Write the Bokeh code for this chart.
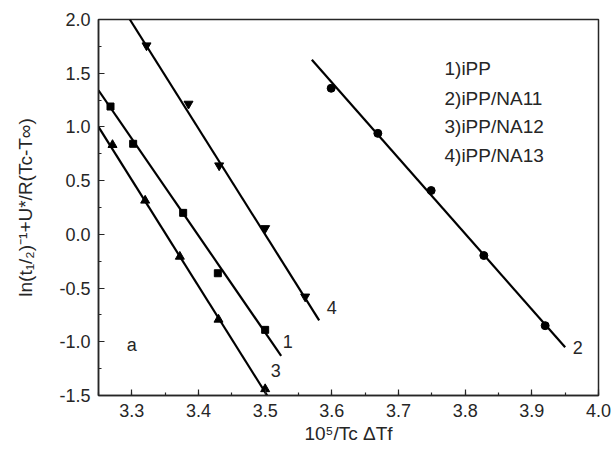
from bokeh.plotting import figure
from bokeh.models import Range1d, SingleIntervalTicker, PrintfTickFormatter
from bokeh.core.properties import value
from bokeh.embed import file_html
from bokeh.resources import INLINE

# data
s1_x = [3.268, 3.302, 3.377, 3.429, 3.500]
s1_y = [1.19, 0.843, 0.20, -0.362, -0.889]
s2_x = [3.599, 3.669, 3.749, 3.828, 3.920]
s2_y = [1.36, 0.94, 0.408, -0.197, -0.85]
s3_x = [3.271, 3.320, 3.372, 3.430, 3.500]
s3_y = [0.833, 0.315, -0.207, -0.793, -1.44]
s4_x = [3.322, 3.385, 3.431, 3.500, 3.560]
s4_y = [1.758, 1.215, 0.641, 0.057, -0.58]

fit1_x = [3.25, 3.524]
fit1_y = [1.34, -1.13]
fit2_x = [3.570, 3.950]
fit2_y = [1.625, -1.05]
fit3_x = [3.25, 3.504]
fit3_y = [1.00, -1.51]
fit4_x = [3.297, 3.581]
fit4_y = [2.0, -0.80]

legend_texts = ["1)iPP", "2)iPP/NA11", "3)iPP/NA12", "4)iPP/NA13"]
curve_labels = ["1", "2", "3", "4"]

FONT = "Liberation Sans"
INK = "#262626"

p = figure(width=613, height=459, output_backend="svg", toolbar_location=None,
           x_range=Range1d(3.25, 4.0), y_range=Range1d(-1.5, 2.0),
           min_border_left=98, min_border_right=15, min_border_top=19, min_border_bottom=64)
p.grid.visible = False
p.outline_line_color = INK
p.outline_line_width = 1.5
p.background_fill_color = "white"
p.border_fill_color = "white"

p.xaxis.ticker = SingleIntervalTicker(interval=0.1, num_minor_ticks=2)
p.yaxis.ticker = SingleIntervalTicker(interval=0.5, num_minor_ticks=2)
p.xaxis.formatter = PrintfTickFormatter(format="%.1f")
p.yaxis.formatter = PrintfTickFormatter(format="%.1f")
for ax in (p.xaxis, p.yaxis):
    ax.major_tick_in = 6
    ax.major_tick_out = 0
    ax.minor_tick_in = 3
    ax.minor_tick_out = 0
    ax.axis_line_color = INK
    ax.axis_line_width = 1.5
    ax.major_tick_line_color = INK
    ax.minor_tick_line_color = INK
    ax.major_tick_line_width = 1.2
    ax.minor_tick_line_width = 1.2
    ax.major_label_text_font = FONT
    ax.major_label_text_font_size = "18px"
    ax.major_label_text_color = INK
    ax.axis_label_text_font = FONT
    ax.axis_label_text_font_size = "19px"
    ax.axis_label_text_font_style = "normal"
    ax.axis_label_text_color = INK
p.xaxis.major_label_standoff = 8
p.yaxis.major_label_standoff = 8
p.xaxis.axis_label = "10⁵/Tc ΔTf"
p.yaxis.axis_label = "ln(t₁/₂)⁻¹+U*/R(Tc-T∞)"
p.xaxis.axis_label_standoff = 3
p.yaxis.axis_label_standoff = 20

for fx, fy in ((fit1_x, fit1_y), (fit2_x, fit2_y), (fit3_x, fit3_y), (fit4_x, fit4_y)):
    p.line(fx, fy, line_color="black", line_width=2.2)

p.scatter(s1_x, s1_y, marker="square", size=7, color="black")
p.scatter(s2_x, s2_y, marker="circle", size=8, color="black")
p.scatter(s3_x, s3_y, marker="triangle", size=9, color="black")
p.scatter(s4_x, s4_y, marker="inverted_triangle", size=9, color="black")

p.text([3.534, 3.969, 3.516, 3.600], [-1.0, -1.05, -1.27, -0.68], text=curve_labels,
       text_font=value(FONT), text_font_size="18px", text_color=INK,
       text_align="center", text_baseline="middle")

p.text([3.769] * 4, [1.544, 1.265, 1.004, 0.734], text=legend_texts,
       text_font=value(FONT), text_font_size="19px", text_color=INK,
       text_align="left", text_baseline="middle")

p.text([3.30], [-1.03], text=["a"], text_font=value(FONT), text_font_size="18px",
       text_color=INK, text_align="center", text_baseline="middle")

open("out.html", "w").write(file_html(p, INLINE))
